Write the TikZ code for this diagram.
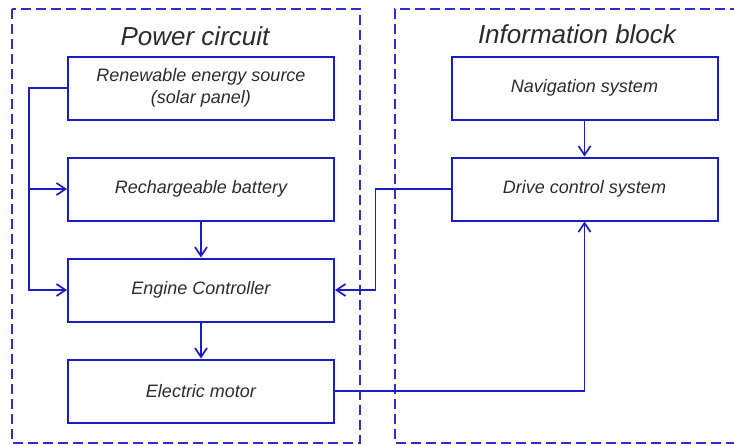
\documentclass[tikz,border=0pt]{standalone}
\usepackage{fontspec}
\setmainfont{Liberation Sans}
\usepackage{xcolor}
\usetikzlibrary{arrows.meta,positioning}
\definecolor{lineblue}{HTML}{1C1CC4}
\definecolor{dashblue}{HTML}{2E2ECC}
\definecolor{inkgrey}{HTML}{2B2B2B}
\tikzset{
  unitbox/.style={
    rectangle, draw=lineblue, line width=2pt,
    minimum width=266pt, minimum height=63pt,
    font=\fontsize{18}{22}\selectfont\itshape, text=inkgrey,
    align=center, inner sep=0pt
  },
  flow/.style={
    -{Straight Barb[length=9pt,width=12pt]}, line width=1.7pt, color=lineblue
  },
  groupline/.style={
    draw=dashblue, line width=1.7pt, dash pattern=on 10pt off 5pt
  },
  grouptitle/.style={
    font=\fontsize{26}{30}\selectfont\itshape, text=inkgrey
  },
}
\begin{document}
\begin{tikzpicture}[x=1pt, y=-1pt, node distance=36pt and 36pt]
  \useasboundingbox (0,0) rectangle (734,445);
  % Groups
  \draw[groupline] (12,9) rectangle (360,443);
  \draw[groupline] (740,9) -| (395,443) -- (740,443);
  \node[grouptitle] (power-title) at (195,36) {Power circuit};
  \node[grouptitle] (info-title) at (577,34) {Information block};
  % Power circuit
  \node[unitbox] (renew) at (201,88) {Renewable energy source\\(solar panel)};
  \node[unitbox, below=of renew] (batt) {Rechargeable battery};
  \node[unitbox, below=of batt] (engine) {Engine Controller};
  \node[unitbox, below=of engine] (motor) {Electric motor};
  % Information block
  \node[unitbox] (nav) at (584.5,88) {Navigation system};
  \node[unitbox, below=of nav] (drive) {Drive control system};
  % Connectors
  \coordinate (bus) at ([xshift=-38pt]renew.west);
  \coordinate (drivebend) at ([xshift=-75pt]drive.west);
  \draw[flow] (renew.west) -- (bus) |- (engine.west);
  \draw[flow] (bus |- batt.west) -- (batt.west);
  \draw[flow] (batt) -- (engine);
  \draw[flow] (engine) -- (motor);
  \draw[flow] (nav) -- (drive);
  \draw[flow] (drive.west) -- (drivebend) |- (engine.east);
  \draw[flow] (motor.east) -| (drive.south);
\end{tikzpicture}
\end{document}
